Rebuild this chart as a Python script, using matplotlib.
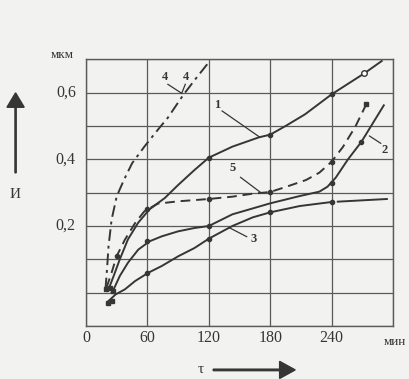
import numpy as np
import matplotlib.pyplot as plt
from matplotlib.patches import FancyArrow

# --- данные (τ, мин ; И, мкм) ---
t1 = [22, 27, 33, 41, 51, 62, 77, 90, 106, 120, 143, 169, 180, 195, 214, 240, 272, 289]
y1 = [0.01, 0.05, 0.10, 0.16, 0.21, 0.25, 0.284, 0.323, 0.368, 0.405, 0.438, 0.466,
      0.474, 0.50, 0.535, 0.595, 0.658, 0.695]

t2 = [25, 27, 33, 41, 51, 62, 74, 90, 106, 120, 143, 180, 209, 228, 236, 244, 256, 269, 279, 291]
y2 = [0.0, 0.01, 0.05, 0.09, 0.129, 0.154, 0.169, 0.184, 0.194, 0.20, 0.235, 0.268,
      0.29, 0.303, 0.318, 0.345, 0.40, 0.452, 0.502, 0.562]

t3 = [22, 29, 38, 48, 61, 74, 90, 106, 120, 143, 163, 180, 209, 240]
y3 = [-0.025, -0.005, 0.01, 0.035, 0.06, 0.08, 0.109, 0.134, 0.162, 0.20, 0.226, 0.241, 0.26, 0.272]
t3b = [246, 294]
y3b = [0.273, 0.281]

t4 = [19, 20.5, 22, 25, 30, 37, 45, 57, 70, 80, 95, 108, 121]
y4 = [0.01, 0.07, 0.139, 0.219, 0.289, 0.338, 0.388, 0.438, 0.488, 0.525, 0.593, 0.645, 0.695]

t5 = [20, 25, 30, 38, 48, 57, 70, 90, 120, 143, 163, 180, 196, 215, 228, 240, 251, 263, 274]
y5 = [0.015, 0.06, 0.11, 0.159, 0.209, 0.244, 0.267, 0.274, 0.281, 0.288, 0.297, 0.302,
      0.318, 0.338, 0.36, 0.393, 0.437, 0.497, 0.566]

# точки-маркеры на кривых
mk_t = [60, 120, 180, 240, 60, 120, 240, 269, 60, 120, 180, 240, 120, 180, 240, 30]
mk_y = [0.25, 0.405, 0.474, 0.595, 0.154, 0.20, 0.33, 0.452, 0.06, 0.162, 0.241, 0.272,
        0.281, 0.302, 0.393, 0.11]
start_t = [20, 23, 26, 21, 25]
start_y = [0.01, 0.015, 0.005, -0.03, -0.025]

xticks = [0, 60, 120, 180, 240]
yticks = [0.2, 0.4, 0.6]
ytick_labels = ["0,2", "0,4", "0,6"]

# ==================== ГРАФИК ====================
plt.rcParams['font.family'] = ['Liberation Serif', 'DejaVu Serif']
ink = '#363636'
bg = '#f2f2f0'

fig = plt.figure(figsize=(4.1, 3.79), dpi=100, facecolor=bg)
ax = fig.add_axes([0.2098, 0.1398, 0.7488, 0.7037], facecolor=bg)

ax.set_xlim(0, 300)
ax.set_ylim(-0.1, 0.7)
ax.set_xticks(np.arange(0, 301, 60))
ax.set_yticks(np.arange(-0.1, 0.71, 0.1))
ax.grid(True, color='#5a5a5a', lw=0.9)
ax.set_xticklabels([])
ax.set_yticklabels([])
ax.tick_params(length=0)
for s in ax.spines.values():
    s.set_color('#5a5a5a')
    s.set_linewidth(1.0)

kw = dict(color=ink, lw=1.4, solid_joinstyle='round', dash_joinstyle='round')
ax.plot(t1, y1, '-', **kw)
ax.plot(t2, y2, '-', **kw)
ax.plot(t3, y3, '-', **kw)
ax.plot(t3b, y3b, '-', **kw)
ax.plot(t4, y4, dashes=(6, 2.5, 1.5, 2.5), **kw)
ax.plot(t5, y5, dashes=(5, 3), **kw)

ax.plot(mk_t, mk_y, 'o', color=ink, ms=3)
ax.plot([272], [0.658], 'o', mfc='white', mec=ink, ms=4)
ax.plot([274], [0.566], 's', color=ink, ms=3.5)
ax.plot(start_t, start_y, 's', color=ink, ms=3.5)

# подписи кривых
fs = 9
ax.text(128, 0.563, "1", fontsize=fs, color=ink, ha='center', va='center', weight='bold')
ax.plot([133, 170], [0.545, 0.466], color=ink, lw=0.9)
ax.text(77, 0.648, "4", fontsize=fs, color=ink, ha='center', va='center', weight='bold')
ax.text(98, 0.648, "4", fontsize=fs, color=ink, ha='center', va='center', weight='bold')
ax.plot([80, 93.5], [0.625, 0.598], color=ink, lw=0.9)
ax.plot([97, 93.5], [0.625, 0.598], color=ink, lw=0.9)
ax.text(143, 0.375, "5", fontsize=fs, color=ink, ha='center', va='center', weight='bold')
ax.plot([151, 170], [0.346, 0.302], color=ink, lw=0.9)
ax.text(292, 0.428, "2", fontsize=fs, color=ink, ha='center', va='center', weight='bold')
ax.plot([288, 277], [0.448, 0.47], color=ink, lw=0.9)
ax.text(164, 0.16, "3", fontsize=fs, color=ink, ha='center', va='center', weight='bold')
ax.plot([157, 140], [0.168, 0.195], color=ink, lw=0.9)

# подписи осей
for v, lab in zip(yticks, ytick_labels):
    ax.text(-10, v, lab, fontsize=11.5, color=ink, ha='right', va='center', clip_on=False)
for v in xticks:
    ax.text(v, -0.135, str(v), fontsize=11.5, color=ink, ha='center', va='center', clip_on=False)
fig.text(0.152, 0.855, "мкм", fontsize=9.5, color=ink, ha='center', va='center')
fig.text(0.937, 0.098, "мин", fontsize=9.5, color=ink, ha='left', va='center')
fig.text(0.036, 0.487, "И", fontsize=11, color=ink, ha='center', va='center')
fig.text(0.49, 0.026, "τ", fontsize=11, color=ink, ha='center', va='center')

fig.patches.append(FancyArrow(
    0.038, 0.544, 0, 0.211, width=0.003, head_width=0.042, head_length=0.038,
    length_includes_head=True, color=ink, transform=fig.transFigure, figure=fig))
fig.patches.append(FancyArrow(
    0.52, 0.024, 0.2, 0, width=0.004, head_width=0.045, head_length=0.038,
    length_includes_head=True, color=ink, transform=fig.transFigure, figure=fig))

fig.savefig("out.png", dpi=100, facecolor=bg)
